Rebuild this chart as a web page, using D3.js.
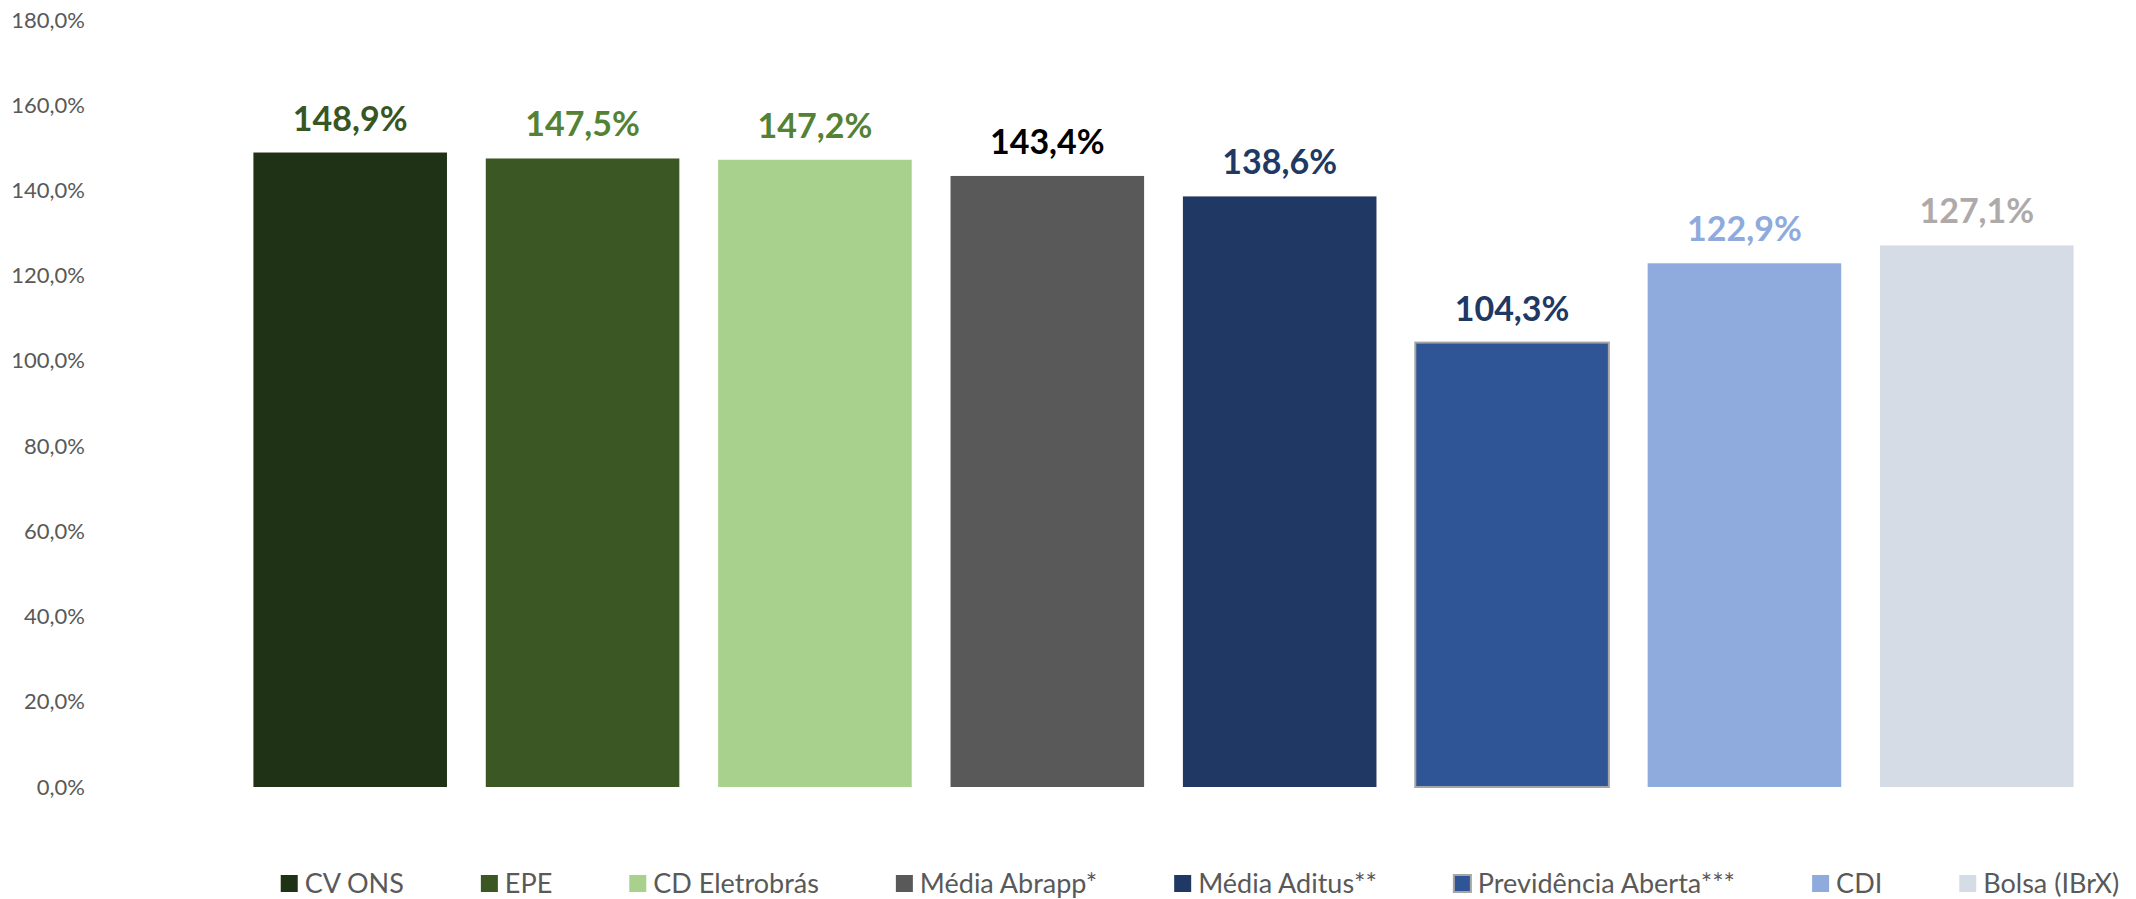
<!DOCTYPE html>
<html>
<head>
<meta charset="utf-8">
<script src="https://cdn.jsdelivr.net/npm/d3@7"></script>
<style>
  body { margin: 0; background: #fff; }
  text { font-family: Lato, "Noto Sans", sans-serif; }
</style>
</head>
<body>
<div id="chart"></div>
<script>
var categories = ["CV ONS", "EPE", "CD Eletrobrás", "Média Abrapp*", "Média Aditus**", "Previdência Aberta***", "CDI", "Bolsa (IBrX)"];
var values = [148.9, 147.5, 147.2, 143.4, 138.6, 104.3, 122.9, 127.1];
var barColors = ["#203215", "#3a5724", "#a9d18e", "#595959", "#203864", "#2f5597", "#8faadc", "#d6dce5"];
var labelColors = ["#375623", "#548235", "#548235", "#000000", "#203864", "#203864", "#8faadc", "#aeaaaa"];
var yTicks = [0, 20, 40, 60, 80, 100, 120, 140, 160, 180];

var width = 2136, height = 899;

var svg = d3.select("#chart").append("svg")
  .attr("width", width)
  .attr("height", height);

var fmt = function(v){ return v.toFixed(1).replace(".", ",") + "%"; };

//escalas
var xScale = d3.scaleBand().domain(categories).range([234, 2093])
  .paddingInner(0.167).paddingOuter(0.0835);
var yScale = d3.scaleLinear().domain([0, 180]).range([787, 20]);

//eixo y
var yAxis = d3.axisLeft(yScale).tickValues(yTicks).tickSize(0).tickPadding(0).tickFormat(fmt);
var yAxisGroup = svg.append("g")
  .attr("transform", "translate(85,0)")
  .call(yAxis);
yAxisGroup.select(".domain").remove();
yAxisGroup.selectAll("text")
  .style("font-family", "Lato, 'Noto Sans', sans-serif")
  .style("font-size", "22px")
  .attr("fill", "#595959");

//barras
svg.selectAll("rect.bar")
  .data(values)
  .enter()
  .append("rect")
  .attr("class", "bar")
  .attr("x", function(d, i){ return xScale(categories[i]); })
  .attr("y", function(d){ return yScale(d); })
  .attr("width", xScale.bandwidth())
  .attr("height", function(d){ return yScale(0) - yScale(d); })
  .attr("fill", function(d, i){ return barColors[i]; })
  .attr("stroke", function(d, i){ return i == 5 ? "#a5a5a5" : "none"; })
  .attr("stroke-width", 2);

//rotulos
svg.selectAll("text.label")
  .data(values)
  .enter()
  .append("text")
  .attr("class", "label")
  .attr("x", function(d, i){ return xScale(categories[i]) + xScale.bandwidth() / 2; })
  .attr("y", function(d){ return yScale(d) - 22; })
  .attr("text-anchor", "middle")
  .style("font-size", "34px")
  .style("font-weight", "bold")
  .attr("fill", function(d, i){ return labelColors[i]; })
  .text(fmt);

//legenda
var legend = svg.append("g");
var items = legend.selectAll("g")
  .data(categories)
  .enter()
  .append("g");
items.append("rect")
  .attr("width", 17).attr("height", 17)
  .attr("y", -9)
  .attr("fill", function(d, i){ return barColors[i]; })
  .attr("stroke", function(d, i){ return i == 5 ? "#a5a5a5" : "none"; })
  .attr("stroke-width", 2);
items.append("text")
  .attr("x", 24)
  .attr("dy", "0.35em")
  .style("font-size", "27px")
  .attr("fill", "#595959")
  .text(function(d){ return d; });

var pos = 0;
items.each(function(d){
  var w = 24 + d3.select(this).select("text").node().getComputedTextLength();
  d3.select(this).attr("transform", "translate(" + pos + ",0)");
  pos += w + 77;
});
var total = pos - 77;
legend.attr("transform", "translate(" + (1200 - total / 2) + ",884)");
</script>
</body>
</html>
